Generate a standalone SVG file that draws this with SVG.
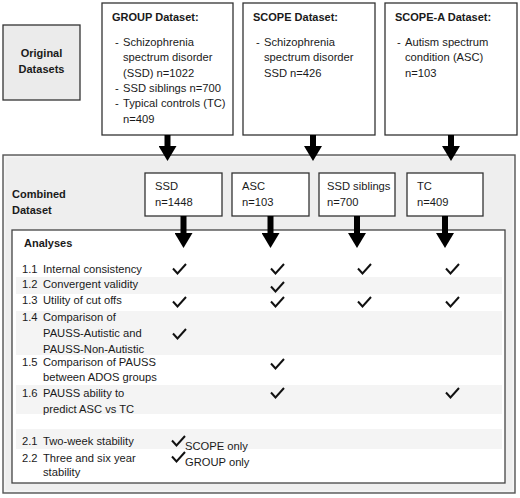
<svg xmlns="http://www.w3.org/2000/svg" width="520" height="498" viewBox="0 0 520 498">
<defs>
<style>
.box{fill:#ffffff;stroke:#333333;stroke-width:1.3}
.gbox{fill:#ebebeb;stroke:#333333;stroke-width:1.3}
.t{font-family:"Liberation Sans",Arial,sans-serif;font-size:11.2px;fill:#1a1a1a}
.b{font-weight:bold;font-size:11px}
.stripe{fill:#f4f4f4}
.chk{fill:none;stroke:#111111;stroke-width:2}
.arr{stroke:#000000;stroke-width:6;marker-end:url(#ah)}
</style>
<marker id="ah" markerUnits="userSpaceOnUse" markerWidth="15" markerHeight="18" viewBox="0 0 15 18" refX="0" refY="9" orient="auto">
<path d="M0,0 L15,9 L0,18 z" fill="#000000"/>
</marker>
<path id="ck" d="M0,4.5 L4.5,9.5 L13,0"/>
</defs>

<g id="original-datasets">
<rect class="gbox" x="3" y="25" width="77" height="75"/>
<text class="t b" x="41.5" y="57" text-anchor="middle">Original</text>
<text class="t b" x="41.5" y="73" text-anchor="middle">Datasets</text>
</g>

<g id="group-dataset">
<rect class="box" x="102" y="3" width="131" height="132"/>
<text class="t b" x="112" y="21">GROUP Dataset:</text>
<text class="t" x="115" y="46">-</text><text class="t" x="123" y="46">Schizophrenia</text>
<text class="t" x="123" y="61.3">spectrum disorder</text>
<text class="t" x="123" y="76.6">(SSD) n=1022</text>
<text class="t" x="115" y="91.9">-</text><text class="t" x="123" y="91.9">SSD siblings n=700</text>
<text class="t" x="115" y="107.2">-</text><text class="t" x="123" y="107.2">Typical controls (TC)</text>
<text class="t" x="123" y="122.5">n=409</text>
</g>

<g id="scope-dataset">
<rect class="box" x="243" y="3" width="132" height="132"/>
<text class="t b" x="253" y="21">SCOPE Dataset:</text>
<text class="t" x="256" y="46">-</text><text class="t" x="264" y="46">Schizophrenia</text>
<text class="t" x="264" y="61.3">spectrum disorder</text>
<text class="t" x="264" y="76.6">SSD n=426</text>
</g>

<g id="scope-a-dataset">
<rect class="box" x="385" y="3" width="132" height="132"/>
<text class="t b" x="395" y="21">SCOPE-A Dataset:</text>
<text class="t" x="397" y="46">-</text><text class="t" x="405" y="46">Autism spectrum</text>
<text class="t" x="405" y="61.3">condition (ASC)</text>
<text class="t" x="405" y="76.6">n=103</text>
</g>

<g id="combined-dataset">
<rect x="3" y="155" width="512" height="338" fill="#eeeeee" stroke="#555555" stroke-width="1.4"/>
<rect x="4.8" y="156.8" width="508.4" height="334.4" fill="none" stroke="#f8f8f8" stroke-width="1"/>
<text class="t b" x="12" y="198">Combined</text>
<text class="t b" x="12" y="214">Dataset</text>
</g>

<g id="ssd">
<rect class="box" x="145" y="173" width="77" height="43"/>
<text class="t" x="155" y="190">SSD</text>
<text class="t" x="155" y="206">n=1448</text>
</g>
<g id="asc">
<rect class="box" x="232" y="173" width="77" height="43"/>
<text class="t" x="242" y="190">ASC</text>
<text class="t" x="242" y="206">n=103</text>
</g>
<g id="ssd-siblings">
<rect class="box" x="319" y="173" width="76" height="43"/>
<text class="t" x="327" y="190">SSD siblings</text>
<text class="t" x="327" y="206">n=700</text>
</g>
<g id="tc">
<rect class="box" x="407" y="173" width="76" height="43"/>
<text class="t" x="417" y="190">TC</text>
<text class="t" x="417" y="206">n=409</text>
</g>

<g id="analyses">
<rect x="12" y="230" width="493" height="253" fill="#ffffff" stroke="#444444" stroke-width="1.3"/>
<rect class="stripe" x="16" y="277" width="486" height="17"/>
<rect class="stripe" x="16" y="311" width="486" height="44"/>
<rect class="stripe" x="16" y="385" width="486" height="29"/>
<rect class="stripe" x="16" y="429" width="486" height="20"/>
<text class="t b" x="24" y="247">Analyses</text>
<text class="t" x="22" y="272.5">1.1</text><text class="t" x="43" y="272.5">Internal consistency</text>
<text class="t" x="22" y="288">1.2</text><text class="t" x="43" y="288">Convergent validity</text>
<text class="t" x="22" y="304">1.3</text><text class="t" x="43" y="304">Utility of cut offs</text>
<text class="t" x="22" y="321">1.4</text><text class="t" x="43" y="321">Comparison of</text>
<text class="t" x="43" y="337">PAUSS-Autistic and</text>
<text class="t" x="43" y="352.5">PAUSS-Non-Autistic</text>
<text class="t" x="22" y="366">1.5</text><text class="t" x="43" y="366">Comparison of PAUSS</text>
<text class="t" x="43" y="381">between ADOS groups</text>
<text class="t" x="22" y="397">1.6</text><text class="t" x="43" y="397">PAUSS ability to</text>
<text class="t" x="43" y="412.5">predict ASC vs TC</text>
<text class="t" x="22" y="444.5">2.1</text><text class="t" x="43" y="444.5">Two-week stability</text>
<text class="t" x="22" y="461.5">2.2</text><text class="t" x="43" y="461.5">Three and six year</text>
<text class="t" x="43" y="476">stability</text>
<text class="t" x="185" y="450">SCOPE only</text>
<text class="t" x="185" y="466">GROUP only</text>
<g class="chk">
<use href="#ck" x="173" y="264"/><use href="#ck" x="271" y="264"/><use href="#ck" x="358" y="264"/><use href="#ck" x="446" y="264"/>
<use href="#ck" x="271" y="282"/>
<use href="#ck" x="173" y="297"/><use href="#ck" x="271" y="297"/><use href="#ck" x="358" y="297"/><use href="#ck" x="446" y="297"/>
<use href="#ck" x="173" y="329"/>
<use href="#ck" x="271" y="359"/>
<use href="#ck" x="271" y="388"/><use href="#ck" x="446" y="388"/>
<use href="#ck" x="172" y="436"/>
<use href="#ck" x="172" y="452"/>
</g>
</g>

<g id="connectors">
<line class="arr" x1="167.5" y1="135" x2="167.5" y2="146"/>
<line class="arr" x1="313" y1="135" x2="313" y2="146"/>
<line class="arr" x1="451" y1="135" x2="451" y2="146"/>
<line class="arr" x1="183.5" y1="216" x2="183.5" y2="233"/>
<line class="arr" x1="270.5" y1="216" x2="270.5" y2="233"/>
<line class="arr" x1="357" y1="216" x2="357" y2="233"/>
<line class="arr" x1="445" y1="216" x2="445" y2="233"/>
</g>
</svg>
